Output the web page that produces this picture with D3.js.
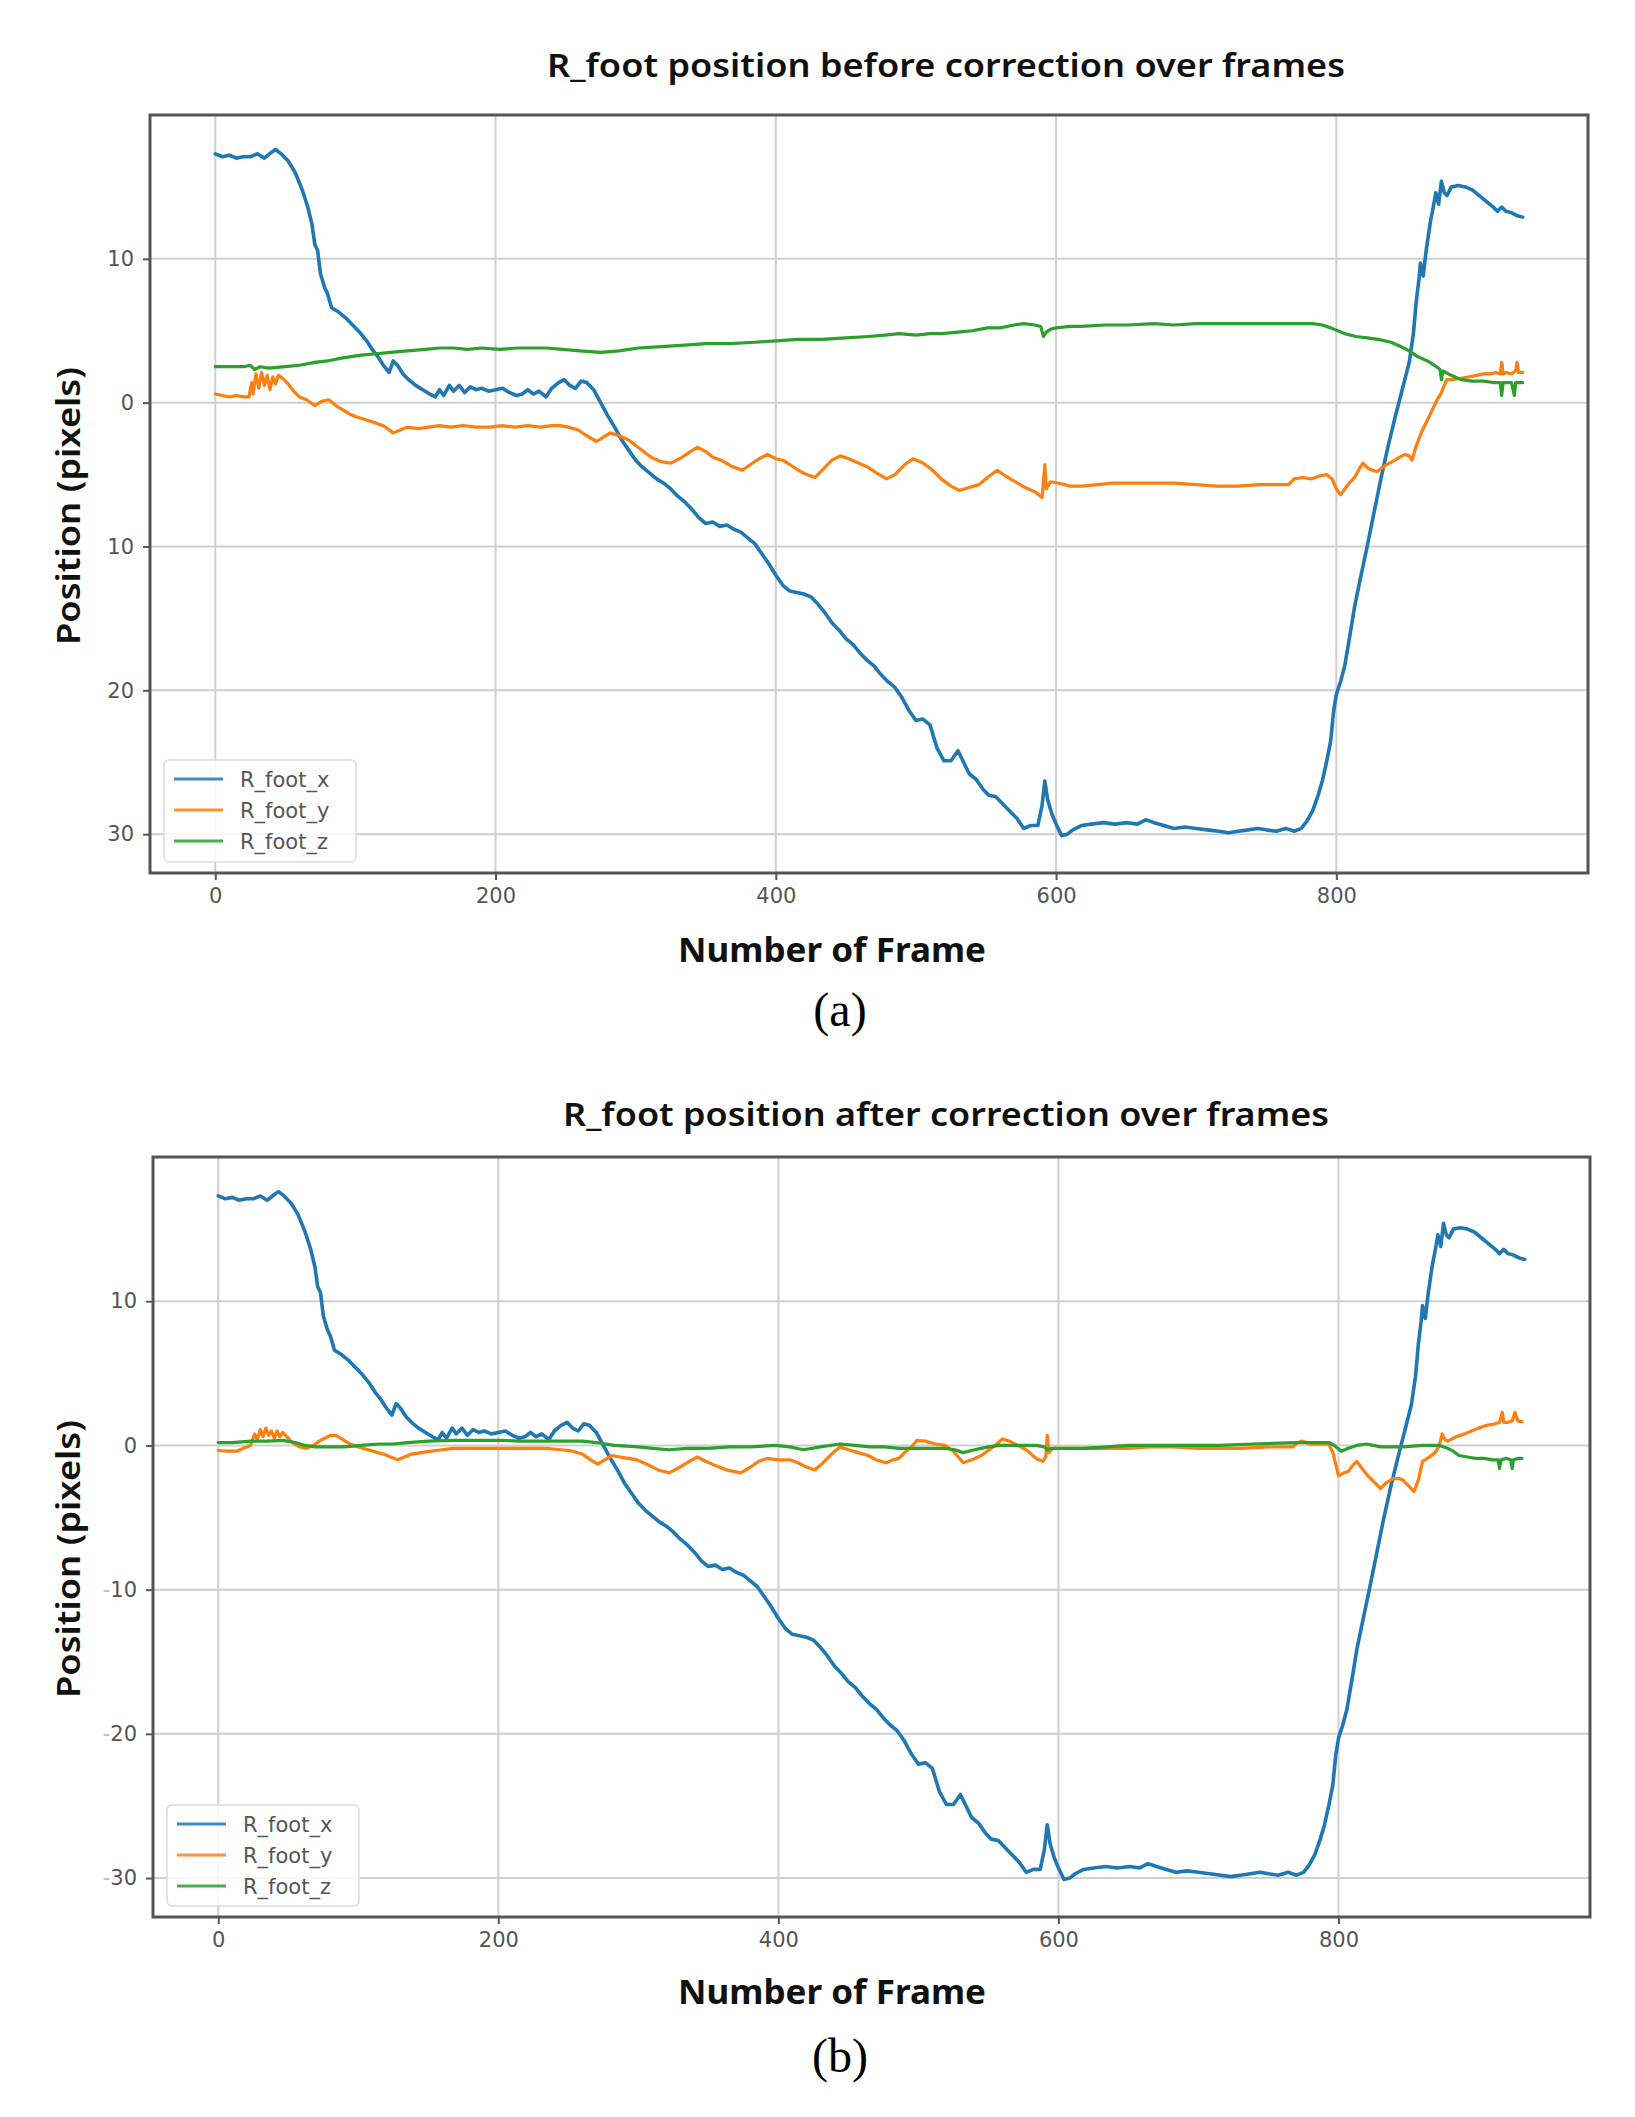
<!DOCTYPE html>
<html><head><meta charset="utf-8">
<script src="https://cdn.jsdelivr.net/npm/d3@7"></script>
<style>html,body{margin:0;padding:0;background:#fff}svg{display:block}</style>
</head><body>
<svg id="chart" width="1635" height="2117"></svg>
<script>
// ---------------- DATA ----------------
const titles = ["R_foot position before correction over frames", "R_foot position after correction over frames"];
const captions = ["(a)", "(b)"];
const xLabel = "Number of Frame";
const yLabel = "Position (pixels)";
const seriesNames = ["R_foot_x", "R_foot_y", "R_foot_z"];
const seriesColors = ["#1f77b4", "#ff7f0e", "#2ca02c"];
const xTickValues = [0, 200, 400, 600, 800];
const xTickLabels = ["0", "200", "400", "600", "800"];
const yTickValues = [10, 0, -10, -20, -30];
const topYTickLabels = ["10", "0", "10", "20", "30"];
const bottomYTickLabels = ["10", "0", "-10", "-20", "-30"];
const xDomain = [-46.6, 979.6];
const yDomain = [-32.7, 20.0];

// R_foot_x (identical in both panels): [frame, value]
const footX = [[0,17.3],[5,17.1],[10,17.2],[15,17.0],[20,17.1],[25,17.1],[30,17.3],[35,17.0],[40,17.4],[43,17.6],[47,17.3],[52,16.8],[57,16.0],[62,14.8],[66,13.6],[69,12.4],[71,11.0],[73,10.6],[75,9.0],[78,8.0],[80,7.6],[83,6.6],[88,6.3],[93,5.9],[98,5.4],[103,4.9],[108,4.3],[112,3.7],[116,3.2],[120,2.6],[124,2.1],[127,2.9],[130,2.6],[134,2.0],[138,1.6],[143,1.2],[148,0.9],[153,0.6],[157,0.4],[160,0.9],[163,0.5],[167,1.2],[170,0.8],[174,1.2],[178,0.7],[182,1.1],[186,0.9],[190,1.0],[195,0.8],[200,0.9],[205,1.0],[210,0.7],[215,0.5],[219,0.6],[223,0.9],[227,0.6],[231,0.8],[236,0.4],[240,1.0],[245,1.4],[249,1.6],[253,1.2],[257,1.0],[261,1.5],[265,1.4],[270,0.9],[275,0.0],[280,-0.9],[285,-1.7],[290,-2.6],[295,-3.3],[300,-4.0],[305,-4.5],[310,-4.9],[315,-5.3],[320,-5.6],[325,-6.0],[330,-6.5],[335,-6.9],[340,-7.4],[345,-8.0],[350,-8.4],[355,-8.3],[360,-8.6],[365,-8.5],[370,-8.8],[375,-9.0],[380,-9.4],[385,-9.8],[390,-10.5],[395,-11.2],[400,-12.0],[405,-12.7],[410,-13.1],[415,-13.2],[420,-13.3],[425,-13.5],[430,-14.0],[435,-14.6],[440,-15.3],[445,-15.8],[450,-16.4],[455,-16.8],[460,-17.4],[465,-17.9],[470,-18.3],[475,-18.9],[480,-19.4],[485,-19.8],[490,-20.5],[495,-21.4],[500,-22.1],[505,-22.0],[510,-22.4],[515,-24.0],[520,-24.9],[525,-24.9],[530,-24.2],[534,-25.0],[538,-25.8],[543,-26.2],[548,-26.9],[552,-27.3],[557,-27.4],[562,-27.9],[567,-28.4],[572,-28.9],[577,-29.6],[582,-29.4],[587,-29.4],[590,-28.0],[592,-26.3],[594,-27.6],[597,-28.6],[600,-29.3],[604,-30.1],[608,-30.0],[612,-29.7],[618,-29.4],[625,-29.3],[634,-29.2],[642,-29.3],[651,-29.2],[658,-29.3],[664,-29.0],[670,-29.2],[677,-29.4],[684,-29.6],[692,-29.5],[700,-29.6],[708,-29.7],[716,-29.8],[723,-29.9],[730,-29.8],[737,-29.7],[744,-29.6],[750,-29.7],[757,-29.8],[764,-29.6],[770,-29.8],[775,-29.6],[779,-29.1],[783,-28.4],[787,-27.3],[790,-26.3],[793,-25.0],[796,-23.5],[798,-21.5],[800,-20.3],[803,-19.4],[806,-18.3],[810,-16.0],[813,-14.2],[817,-12.3],[822,-10.0],[827,-7.6],[832,-5.2],[837,-3.0],[842,-1.0],[847,0.9],[852,2.8],[855,4.8],[857,7.0],[859,8.6],[860,9.7],[862,8.8],[864,10.5],[867,12.5],[869,13.5],[871,14.6],[873,13.8],[875,15.4],[877,14.6],[879,14.4],[882,15.0],[887,15.1],[892,15.0],[897,14.8],[902,14.4],[907,14.0],[912,13.6],[915,13.3],[918,13.6],[921,13.3],[925,13.2],[929,13.0],[933,12.9]];

// R_foot_y before correction
const beforeY = [[0,0.6],[5,0.5],[10,0.4],[15,0.5],[20,0.4],[24,0.4],[26,1.4],[27,0.6],[29,2.0],[31,1.0],[33,2.1],[35,1.2],[37,1.9],[39,0.9],[41,1.8],[43,1.3],[45,1.9],[48,1.7],[52,1.3],[56,0.8],[60,0.4],[65,0.2],[71,-0.2],[76,0.1],[81,0.2],[86,-0.2],[91,-0.5],[96,-0.8],[101,-1.0],[108,-1.2],[114,-1.4],[120,-1.6],[127,-2.1],[132,-1.9],[137,-1.7],[145,-1.8],[152,-1.7],[160,-1.6],[168,-1.7],[177,-1.6],[186,-1.7],[196,-1.7],[205,-1.6],[214,-1.7],[223,-1.6],[232,-1.7],[240,-1.6],[246,-1.6],[252,-1.7],[259,-1.9],[265,-2.3],[272,-2.7],[277,-2.4],[282,-2.1],[288,-2.3],[295,-2.6],[303,-3.2],[311,-3.8],[318,-4.1],[325,-4.2],[333,-3.8],[339,-3.4],[344,-3.1],[350,-3.4],[355,-3.8],[361,-4.0],[368,-4.4],[376,-4.7],[382,-4.3],[388,-3.9],[394,-3.6],[400,-3.9],[405,-4.0],[410,-4.3],[416,-4.7],[422,-5.0],[428,-5.2],[434,-4.6],[440,-4.0],[446,-3.7],[452,-3.9],[459,-4.2],[466,-4.5],[472,-4.9],[479,-5.3],[485,-5.0],[492,-4.3],[498,-3.9],[505,-4.2],[512,-4.7],[518,-5.3],[525,-5.8],[531,-6.1],[538,-5.9],[545,-5.7],[551,-5.2],[558,-4.7],[564,-5.1],[571,-5.5],[578,-5.9],[585,-6.2],[590,-6.6],[592,-4.3],[593,-6.0],[596,-5.5],[602,-5.6],[610,-5.8],[618,-5.8],[630,-5.7],[640,-5.6],[651,-5.6],[665,-5.6],[684,-5.6],[700,-5.7],[715,-5.8],[730,-5.8],[745,-5.7],[760,-5.7],[766,-5.7],[770,-5.3],[776,-5.2],[782,-5.3],[788,-5.1],[793,-5.0],[797,-5.3],[800,-6.0],[803,-6.4],[806,-6.0],[810,-5.5],[813,-5.2],[817,-4.5],[819,-4.2],[823,-4.6],[829,-4.8],[833,-4.5],[836,-4.3],[840,-4.1],[845,-3.8],[849,-3.6],[852,-3.7],[854,-4.0],[857,-3.0],[861,-2.0],[865,-1.2],[869,-0.4],[872,0.2],[875,0.7],[877,1.2],[879,1.6],[883,1.6],[889,1.7],[895,1.8],[900,1.9],[905,2.0],[910,2.0],[914,2.1],[917,2.0],[918,2.8],[919,2.0],[921,2.1],[925,2.0],[928,2.2],[929,2.8],[930,2.1],[933,2.1]];

// R_foot_z before correction
const beforeZ = [[0,2.5],[10,2.5],[20,2.5],[25,2.6],[28,2.3],[32,2.5],[38,2.4],[50,2.5],[60,2.6],[71,2.8],[80,2.9],[90,3.1],[104,3.3],[115,3.4],[125,3.5],[137,3.6],[150,3.7],[160,3.8],[170,3.8],[180,3.7],[190,3.8],[203,3.7],[215,3.8],[225,3.8],[236,3.8],[248,3.7],[260,3.6],[275,3.5],[288,3.6],[302,3.8],[318,3.9],[335,4.0],[350,4.1],[367,4.1],[385,4.2],[400,4.3],[416,4.4],[433,4.4],[450,4.5],[466,4.6],[478,4.7],[488,4.8],[500,4.7],[510,4.8],[518,4.8],[530,4.9],[540,5.0],[551,5.2],[560,5.2],[570,5.4],[577,5.5],[585,5.4],[589,5.3],[591,4.6],[593,4.9],[596,5.1],[600,5.2],[610,5.3],[618,5.3],[635,5.4],[651,5.4],[670,5.5],[684,5.4],[700,5.5],[716,5.5],[733,5.5],[750,5.5],[766,5.5],[783,5.5],[790,5.4],[796,5.2],[801,5.0],[806,4.8],[814,4.6],[822,4.5],[830,4.4],[839,4.2],[846,3.9],[852,3.6],[858,3.2],[865,2.9],[870,2.6],[874,2.3],[875,1.6],[876,2.2],[882,1.9],[889,1.6],[897,1.5],[905,1.5],[912,1.4],[917,1.4],[918,0.5],[919,1.4],[925,1.4],[927,0.5],[928,1.4],[933,1.4]];

// R_foot_y after correction
const afterY = [[0,-0.35],[6,-0.4],[13,-0.4],[18,-0.2],[23,0.0],[26,0.8],[28,0.4],[30,1.1],[32,0.6],[34,1.2],[36,0.7],[38,1.0],[40,0.5],[42,1.0],[44,0.6],[46,0.9],[48,0.7],[53,0.2],[58,-0.1],[63,-0.2],[68,0.0],[72,0.3],[76,0.5],[80,0.7],[84,0.7],[89,0.4],[94,0.1],[100,-0.1],[109,-0.35],[114,-0.5],[118,-0.6],[123,-0.8],[128,-1.0],[133,-0.8],[138,-0.6],[145,-0.5],[152,-0.4],[160,-0.3],[168,-0.2],[180,-0.2],[190,-0.2],[201,-0.2],[215,-0.2],[225,-0.2],[234,-0.2],[245,-0.3],[253,-0.4],[260,-0.6],[266,-1.0],[271,-1.3],[276,-1.0],[281,-0.7],[287,-0.8],[293,-0.9],[299,-1.0],[306,-1.3],[314,-1.7],[322,-1.9],[328,-1.6],[335,-1.2],[342,-0.8],[348,-1.1],[355,-1.4],[363,-1.7],[373,-1.9],[380,-1.5],[386,-1.1],[392,-0.9],[400,-1.0],[408,-1.0],[414,-1.2],[420,-1.5],[426,-1.7],[432,-1.2],[438,-0.6],[444,-0.1],[450,-0.3],[457,-0.5],[464,-0.7],[470,-1.0],[477,-1.2],[482,-1.0],[486,-0.9],[490,-0.5],[495,-0.1],[499,0.35],[505,0.3],[512,0.1],[519,0.0],[525,-0.4],[532,-1.2],[538,-1.0],[545,-0.7],[552,-0.2],[556,0.1],[560,0.45],[565,0.3],[571,0.0],[577,-0.3],[584,-0.9],[589,-1.1],[591,-0.8],[592,0.7],[593,-0.5],[596,-0.2],[605,-0.2],[617,-0.2],[630,-0.2],[650,-0.2],[665,-0.1],[682,-0.1],[700,-0.2],[715,-0.2],[730,-0.2],[750,-0.1],[767,-0.1],[771,0.2],[774,0.3],[780,0.1],[786,0.1],[793,0.1],[796,-0.5],[800,-2.1],[804,-1.9],[807,-1.8],[810,-1.4],[813,-1.1],[816,-1.5],[820,-2.0],[825,-2.5],[830,-3.0],[834,-2.6],[839,-2.3],[843,-2.3],[846,-2.4],[850,-2.8],[854,-3.2],[857,-2.4],[860,-1.1],[865,-0.8],[869,-0.5],[872,0.0],[874,0.8],[876,0.4],[878,0.3],[884,0.6],[890,0.8],[895,1.0],[900,1.2],[906,1.4],[912,1.5],[915,1.6],[917,2.3],[918,1.6],[921,1.6],[924,1.7],[926,2.3],[928,1.7],[931,1.65]];

// R_foot_z after correction
const afterZ = [[0,0.2],[10,0.2],[23,0.3],[35,0.3],[46,0.35],[55,0.2],[62,0.0],[69,-0.1],[80,-0.1],[90,-0.1],[102,0.0],[115,0.1],[125,0.1],[135,0.2],[150,0.3],[168,0.35],[185,0.35],[201,0.35],[215,0.3],[234,0.3],[250,0.3],[260,0.3],[270,0.2],[283,0.0],[300,-0.1],[310,-0.2],[322,-0.3],[335,-0.2],[350,-0.2],[365,-0.1],[380,-0.1],[398,0.0],[408,-0.1],[418,-0.3],[430,-0.1],[444,0.1],[455,0.0],[465,-0.1],[476,-0.1],[486,-0.2],[500,-0.2],[519,-0.2],[526,-0.3],[532,-0.5],[540,-0.3],[550,-0.1],[558,0.0],[570,0.0],[584,0.0],[590,-0.1],[592,-0.3],[595,-0.2],[605,-0.2],[617,-0.2],[635,-0.1],[650,0.0],[680,0.0],[715,0.0],[740,0.1],[771,0.2],[785,0.2],[793,0.2],[797,0.0],[802,-0.4],[807,-0.2],[813,0.0],[820,0.1],[830,-0.1],[846,-0.1],[860,0.0],[872,0.0],[878,-0.2],[882,-0.4],[886,-0.7],[892,-0.8],[898,-0.9],[904,-0.9],[910,-1.0],[914,-1.0],[915,-1.6],[916,-1.0],[920,-0.9],[923,-1.0],[924,-1.6],[925,-1.0],[928,-0.9],[931,-0.9]];

// ---------------- LAYOUT ----------------
const panels = [
  {title: titles[0], caption: captions[0], series: [footX, beforeY, beforeZ], yLabels: topYTickLabels,
   left: 150, right: 1588, top: 115, bottom: 873, titleY: 77, xLabelY: 962, capY: 1026, yLabelCY: 506,
   legend: {x: 164, y: 760, w: 192, h: 102}},
  {title: titles[1], caption: captions[1], series: [footX, afterY, afterZ], yLabels: bottomYTickLabels,
   left: 153, right: 1590, top: 1157, bottom: 1917, titleY: 1126, xLabelY: 2004, capY: 2072, yLabelCY: 1559,
   legend: {x: 167, y: 1805, w: 192, h: 101}}
];

const svg = d3.select("#chart");
const labelFont = "'Noto Sans', 'Open Sans', sans-serif";
const tickFont = "'DejaVu Sans', sans-serif";

panels.forEach((p, pi) => {
  const x = d3.scaleLinear().domain(xDomain).range([p.left, p.right]);
  const y = d3.scaleLinear().domain(yDomain).range([p.bottom, p.top]);
  const g = svg.append("g");

  // grid
  g.append("g").selectAll("line.vg").data(xTickValues).join("line")
    .attr("x1", d => x(d)).attr("x2", d => x(d)).attr("y1", p.top).attr("y2", p.bottom)
    .attr("stroke", "#cfcfcf").attr("stroke-width", 2);
  g.append("g").selectAll("line.hg").data(yTickValues).join("line")
    .attr("y1", d => y(d)).attr("y2", d => y(d)).attr("x1", p.left).attr("x2", p.right)
    .attr("stroke", "#cfcfcf").attr("stroke-width", 2);

  // series
  const line = d3.line().x(d => x(d[0])).y(d => y(d[1]));
  p.series.forEach((s, i) => {
    g.append("path").datum(s).attr("d", line).attr("fill", "none")
      .attr("stroke", seriesColors[i]).attr("stroke-width", i === 0 ? 3.6 : 3.2)
      .attr("stroke-linejoin", "round").attr("stroke-linecap", "round");
  });

  // axes
  const xAxis = d3.axisBottom(x).tickValues(xTickValues).tickFormat((d, i) => xTickLabels[i]).tickSize(7).tickPadding(8);
  const yAxis = d3.axisLeft(y).tickValues(yTickValues).tickFormat((d, i) => p.yLabels[i]).tickSize(7).tickPadding(9);
  const gx = g.append("g").attr("transform", `translate(0,${p.bottom})`).call(xAxis);
  const gy = g.append("g").attr("transform", `translate(${p.left},0)`).call(yAxis);
  [gx, gy].forEach(a => {
    a.select(".domain").remove();
    a.selectAll(".tick line").attr("stroke", "#555").attr("stroke-width", 2);
    a.selectAll(".tick text").attr("fill", "#555").attr("font-size", 21).attr("font-family", tickFont);
  });
  // faint minus signs on the lower panel
  gy.selectAll(".tick text").each(function () {
    const t = d3.select(this), s = t.text();
    if (s.startsWith("-")) {
      t.text("");
      t.append("tspan").attr("fill", "#bbb").text("-");
      t.append("tspan").text(s.slice(1));
    }
  });

  // frame
  g.append("rect").attr("x", p.left).attr("y", p.top).attr("width", p.right - p.left).attr("height", p.bottom - p.top)
    .attr("fill", "none").attr("stroke", "#555").attr("stroke-width", 3);

  // legend
  const L = p.legend;
  const lg = g.append("g");
  lg.append("rect").attr("x", L.x).attr("y", L.y).attr("width", L.w).attr("height", L.h).attr("rx", 5)
    .attr("fill", "rgba(255,255,255,0.85)").attr("stroke", "#dcdcdc").attr("stroke-width", 1.5);
  seriesNames.forEach((n, i) => {
    const cy = L.y + 19 + i * 31;
    lg.append("line").attr("x1", L.x + 10).attr("x2", L.x + 59).attr("y1", cy).attr("y2", cy)
      .attr("stroke", seriesColors[i]).attr("stroke-width", 3.2).attr("opacity", 0.85);
    lg.append("text").attr("x", L.x + 76).attr("y", cy + 8).text(n)
      .attr("font-family", tickFont).attr("font-size", 21).attr("fill", "#555");
  });

  // title
  g.append("text").attr("x", 946).attr("y", p.titleY).attr("text-anchor", "middle").text(p.title)
    .attr("font-family", labelFont).attr("font-weight", 600).attr("font-size", 33).attr("fill", "#111")
    .attr("textLength", pi === 0 ? 798 : 766).attr("lengthAdjust", "spacingAndGlyphs");
  // x label
  g.append("text").attr("x", 832).attr("y", p.xLabelY).attr("text-anchor", "middle").text(xLabel)
    .attr("font-family", labelFont).attr("font-weight", 700).attr("font-size", 34).attr("fill", "#111")
    .attr("textLength", 308).attr("lengthAdjust", "spacingAndGlyphs");
  // y label
  g.append("text").attr("transform", `translate(80,${p.yLabelCY}) rotate(-90)`).attr("text-anchor", "middle").text(yLabel)
    .attr("font-family", labelFont).attr("font-weight", 600).attr("font-size", 32).attr("fill", "#111")
    .attr("textLength", 278).attr("lengthAdjust", "spacingAndGlyphs");
  // caption
  g.append("text").attr("x", 840).attr("y", p.capY).attr("text-anchor", "middle").text(p.caption)
    .attr("font-family", "'Liberation Serif', 'Times New Roman', serif").attr("font-size", 48).attr("fill", "#000");
});
</script>
</body></html>
